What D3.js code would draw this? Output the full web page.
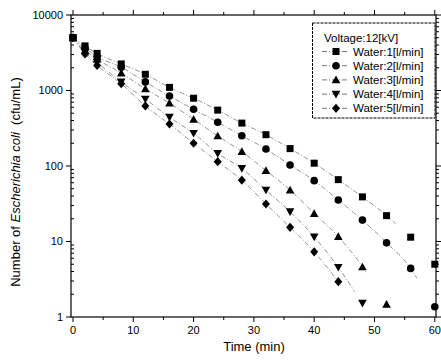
<!DOCTYPE html>
<html><head><meta charset="utf-8">
<script src="https://cdn.jsdelivr.net/npm/d3@7"></script>
<style>
body{margin:0;background:#fff;}
svg{display:block;font-family:"Liberation Sans",Arial,sans-serif;}
</style></head>
<body><div id="chart"></div>
<script>
const times = [0,2,4,8,12,16,20,24,28,32,36,40,44,48,52,56,60];
const water1 = [5000,3900,3100,2250,1640,1100,790,550,370,260,170,109,66,39,22,11.4,5.0];
const water2 = [5000,3650,2800,2030,1300,845,565,380,252,168,103,64,35.5,19.2,9.6,4.4,1.37];
const water3 = [5000,3400,2600,1700,1050,680,416,250,155,87,48,23.5,11.6,4.6,1.47];
const water4 = [5000,3200,2350,1300,770,442,271,147,93,48,24.8,11.5,4.55,1.52];
const water5 = [5000,3050,2150,1230,624,360,200,114,65,31.4,15.4,7.3,2.94];
const seriesNames = ["Water:1[l/min]","Water:2[l/min]","Water:3[l/min]","Water:4[l/min]","Water:5[l/min]"];
const symbols = ["square","circle","triangle","triangleDown","diamond"];
const fitEnd = [53.5,57,48.6,46.7,45.7];
const xTicks = [0,10,20,30,40,50,60];
const yTicks = [1,10,100,1000,10000];
const legendTitle = "Voltage:12[kV]";

const W=441,H=362;
const m={l:71,r:5,t:15,b:45};
const svg=d3.select("#chart").append("svg").attr("width",W).attr("height",H);
const x=d3.scaleLinear().domain([-0.33,60.2]).range([m.l,W-m.r]);
const y=d3.scaleLog().domain([1,10000]).range([H-m.b,m.t]);
const X0=m.l,X1=W-m.r,Y0=H-m.b,Y1=m.t;

const allSeries=[water1,water2,water3,water4,water5];

// fit lines
allSeries.forEach((vals,i)=>{
  const pts=[];
  for(let k=0;k<vals.length;k++){
    if(times[k]<=fitEnd[i]) pts.push([times[k],vals[k]]);
    else{
      const t0=times[k-1],t1=times[k];
      const f=(fitEnd[i]-t0)/(t1-t0);
      const lv=Math.log10(vals[k-1])+f*(Math.log10(vals[k])-Math.log10(vals[k-1]));
      pts.push([fitEnd[i],Math.pow(10,lv)]);
      break;
    }
  }
  svg.append("path").datum(pts)
    .attr("d",d3.line().x(d=>x(d[0])).y(d=>y(d[1])).curve(d3.curveMonotoneX))
    .attr("fill","none").attr("stroke","#777").attr("stroke-width",0.8)
    .attr("stroke-dasharray","5,2,1,2");
});

function sym(type,cx,cy,g){
  if(type==="square") g.append("rect").attr("x",cx-3.5).attr("y",cy-3.5).attr("width",7).attr("height",7);
  else if(type==="circle") g.append("circle").attr("cx",cx).attr("cy",cy).attr("r",3.8);
  else if(type==="triangle") g.append("path").attr("d",`M${cx},${cy-4.3}L${cx+4.3},${cy+3.4}L${cx-4.3},${cy+3.4}Z`);
  else if(type==="triangleDown") g.append("path").attr("d",`M${cx},${cy+4.3}L${cx+4.3},${cy-3.4}L${cx-4.3},${cy-3.4}Z`);
  else g.append("path").attr("d",`M${cx},${cy-4.6}L${cx+4},${cy}L${cx},${cy+4.6}L${cx-4},${cy}Z`);
}
const mg=svg.append("g").attr("fill","#000");
allSeries.forEach((vals,i)=>{
  vals.forEach((v,k)=>sym(symbols[i],x(times[k]),y(v),mg));
});

// frame
svg.append("rect").attr("x",X0).attr("y",Y1).attr("width",X1-X0).attr("height",Y0-Y1)
  .attr("fill","none").attr("stroke","#000").attr("stroke-width",1.2);

const ax=svg.append("g").attr("stroke","#000").attr("stroke-width",1);
// x ticks
d3.range(0,61,5).forEach(t=>{
  const len=(t%10===0)?5:3;
  ax.append("line").attr("x1",x(t)).attr("x2",x(t)).attr("y1",Y0).attr("y2",Y0+len);
  ax.append("line").attr("x1",x(t)).attr("x2",x(t)).attr("y1",Y1).attr("y2",Y1-len);
});
// y ticks
for(let d=0;d<4;d++){
  for(let k=1;k<10;k++){
    const v=Math.pow(10,d)*k;
    if(k===1) continue;
    ax.append("line").attr("x1",X0).attr("x2",X0+3).attr("y1",y(v)).attr("y2",y(v));
    ax.append("line").attr("x1",X1).attr("x2",X1+3).attr("y1",y(v)).attr("y2",y(v));
  }
}
yTicks.forEach(v=>{
  ax.append("line").attr("x1",X0-5).attr("x2",X0).attr("y1",y(v)).attr("y2",y(v));
  ax.append("line").attr("x1",X1).attr("x2",X1+5).attr("y1",y(v)).attr("y2",y(v));
});

const tg=svg.append("g").attr("font-size",11).attr("fill","#000");
xTicks.forEach(t=>tg.append("text").attr("x",x(t)).attr("y",Y0+17).attr("text-anchor","middle").text(t));
yTicks.forEach(v=>tg.append("text").attr("x",X0-8).attr("y",y(v)).attr("dy","0.35em").attr("text-anchor","end").text(v));

svg.append("text").attr("x",254).attr("y",351).attr("text-anchor","middle").attr("font-size",13).text("Time (min)");
const yl=svg.append("text").attr("transform","translate(20,182) rotate(-90)").attr("text-anchor","middle").attr("font-size",13);
yl.append("tspan").text("Number of ");
yl.append("tspan").attr("font-style","italic").text("Escherichia coli");
yl.append("tspan").text("\u00a0\u00a0(cfu/mL)");

// legend
const lg=svg.append("g");
lg.append("rect").attr("x",312.5).attr("y",23).attr("width",122.5).attr("height",95)
  .attr("fill","#fff").attr("stroke","#000").attr("stroke-width",1).attr("stroke-dasharray","3,1");
lg.append("text").attr("x",324).attr("y",38).attr("dy","0.35em").attr("font-size",11.5).text(legendTitle);
seriesNames.forEach((n,i)=>{
  const yy=51.5+i*14.2;
  lg.append("line").attr("x1",322).attr("x2",348).attr("y1",yy).attr("y2",yy)
    .attr("stroke","#555").attr("stroke-width",0.8).attr("stroke-dasharray","5,2,1,2");
  const g=lg.append("g").attr("fill","#000");
  sym(symbols[i],336,yy,g);
  lg.append("text").attr("x",353).attr("y",yy).attr("dy","0.35em").attr("font-size",11.5).text(n);
});
</script></body></html>
